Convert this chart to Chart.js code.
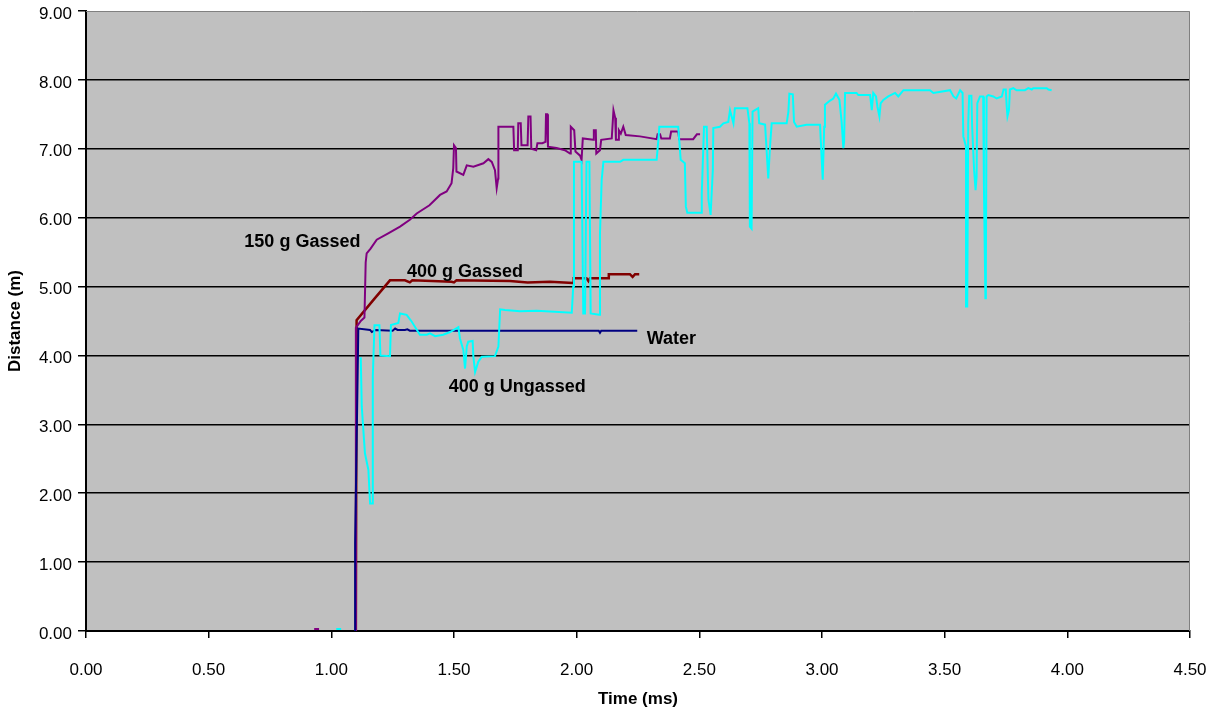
<!DOCTYPE html>
<html>
<head>
<meta charset="utf-8">
<script src="https://cdn.jsdelivr.net/npm/chart.js@4/dist/chart.umd.min.js"></script>
<style>
  html, body { margin: 0; padding: 0; background: #ffffff; }
  #wrap { width: 1215px; height: 710px; }
</style>
</head>
<body>
<div id="wrap"><canvas id="c" width="1215" height="710"></canvas></div>
<script>
// ---- Data (time in ms, distance in m); null = gap ----
const gassed150T = [0.93,0.95,0.96,1.10,1.10,1.12,1.135,1.14,1.144,1.16,1.185,1.23,1.28,1.32,1.348,1.40,1.443,1.47,1.49,1.497,1.500,1.504,1.508,1.51,1.538,1.552,1.579,1.62,1.64,1.654,1.667,1.674,1.68,1.681,1.742,1.745,1.76,1.762,1.772,1.775,1.80,1.803,1.812,1.815,1.835,1.84,1.86,1.873,1.875,1.88,1.883,1.918,1.952,1.973,1.976,1.99,1.995,2.014,2.02,2.025,2.068,2.07,2.078,2.08,2.095,2.10,2.143,2.15,2.157,2.16,2.17,2.172,2.18,2.19,2.20,2.258,2.326,2.33,2.34,2.345,2.38,2.385,2.414,2.418,2.475,2.49,2.503];
const gassed150D = [0.03,0.03,null,0,4.4,4.5,4.55,5.35,5.48,5.55,5.68,5.77,5.87,5.97,6.06,6.18,6.33,6.38,6.5,6.72,7.05,7.05,7.01,6.67,6.62,6.76,6.74,6.79,6.85,6.81,6.69,6.43,6.57,7.32,7.32,6.98,6.98,7.37,7.37,7.05,7.05,7.47,7.47,7.0,6.98,7.08,7.08,7.10,7.5,7.5,7.03,7.01,6.98,6.93,7.32,7.27,6.96,6.90,6.84,7.15,7.13,7.27,7.27,6.93,6.98,7.13,7.15,7.56,7.45,7.13,7.13,7.27,7.22,7.32,7.20,7.18,7.14,7.21,7.21,7.15,7.15,7.25,7.25,7.14,7.14,7.21,7.21];

const gassed400T = [1.10,1.103,1.17,1.239,1.30,1.32,1.33,1.49,1.50,1.51,1.728,1.80,1.891,1.986,1.988,2.04,2.048,2.054,2.129,2.131,2.217,2.228,2.238,2.255];
const gassed400D = [0,4.51,4.80,5.09,5.09,5.06,5.09,5.07,5.06,5.09,5.08,5.06,5.07,5.05,5.12,5.12,5.08,5.12,5.12,5.18,5.18,5.14,5.18,5.18];

const waterT = [1.097,1.097,1.11,1.158,1.165,1.18,1.25,1.26,1.27,1.30,1.31,1.32,2.09,2.095,2.10,2.247];
const waterD = [0,1.27,4.39,4.37,4.34,4.37,4.36,4.39,4.37,4.37,4.38,4.36,4.36,4.33,4.36,4.36];

const ungassed400T = [1.02,1.04,1.05,1.115,1.12,1.124,1.137,1.151,1.158,1.169,1.169,1.176,1.196,1.20,1.239,1.243,1.273,1.28,1.307,1.328,1.361,1.389,1.402,1.423,1.456,1.484,1.518,1.524,1.538,1.545,1.552,1.558,1.576,1.579,1.586,1.599,1.613,1.667,1.681,1.688,1.708,1.769,1.837,1.98,1.986,1.989,2.02,2.027,2.034,2.04,2.052,2.057,2.092,2.095,2.102,2.109,2.177,2.19,2.326,2.333,2.337,2.414,2.424,2.441,2.445,2.451,2.51,2.51,2.519,2.53,2.537,2.546,2.555,2.557,2.584,2.598,2.618,2.625,2.639,2.645,2.696,2.704,2.706,2.713,2.717,2.74,2.744,2.768,2.781,2.788,2.795,2.856,2.863,2.867,2.881,2.886,2.897,2.937,2.992,2.999,3.003,3.009,3.012,3.033,3.046,3.057,3.071,3.08,3.087,3.09,3.094,3.141,3.148,3.196,3.203,3.209,3.22,3.226,3.234,3.239,3.25,3.27,3.298,3.311,3.332,3.44,3.454,3.522,3.536,3.547,3.563,3.573,3.576,3.587,3.587,3.592,3.596,3.60,3.609,3.612,3.62,3.626,3.63,3.633,3.644,3.657,3.66,3.666,3.668,3.671,3.678,3.698,3.712,3.733,3.74,3.749,3.753,3.756,3.762,3.766,3.78,3.793,3.827,3.841,3.855,3.861,3.916,3.923,3.936];
const ungassed400D = [0.03,0.03,null,3.96,3.96,3.26,2.58,2.34,1.85,1.85,3.69,4.44,4.44,4.0,3.99,4.44,4.47,4.61,4.59,4.49,4.30,4.30,4.32,4.28,4.30,4.34,4.41,4.25,4.08,3.81,4.13,4.20,4.21,3.98,3.76,3.91,3.98,3.99,4.13,4.67,4.66,4.64,4.65,4.62,5.0,6.81,6.81,4.61,4.61,6.81,6.81,4.61,4.59,5.77,6.55,6.81,6.81,6.84,6.84,7.13,7.32,7.32,6.84,6.79,6.16,6.07,6.07,6.35,7.32,7.32,6.26,6.04,6.69,7.30,7.32,7.37,7.39,7.56,7.37,7.59,7.59,7.37,5.87,5.84,7.54,7.59,7.37,7.35,6.57,7.03,7.37,7.37,7.54,7.80,7.79,7.39,7.32,7.35,7.35,6.84,6.55,7.32,7.64,7.70,7.73,7.80,7.71,7.39,7.01,7.10,7.81,7.81,7.78,7.78,7.56,7.81,7.76,7.61,7.47,7.66,7.71,7.76,7.81,7.76,7.85,7.85,7.81,7.85,7.76,7.73,7.85,7.81,7.18,7.03,4.71,4.71,7.37,7.77,7.77,7.32,6.69,6.40,6.59,7.66,7.76,7.76,6.45,4.83,5.24,7.76,7.78,7.76,7.73,7.76,7.86,7.86,7.61,7.47,7.56,7.86,7.88,7.85,7.85,7.88,7.86,7.88,7.88,7.86,7.85];

// Series labels (text placed at data coordinates)
const seriesLabelText = ['150 g Gassed', '400 g Gassed', 'Water', '400 g Ungassed'];
const seriesLabelT = [0.882, 1.545, 2.386, 1.758];
const seriesLabelD = [5.645, 5.21, 4.24, 3.545];

const xTicks = [0, 0.5, 1, 1.5, 2, 2.5, 3, 3.5, 4, 4.5];
const yTicks = [0, 1, 2, 3, 4, 5, 6, 7, 8, 9];

function pts(ts, ds) { return ts.map((t, i) => ({ x: t, y: ds[i] })); }

const FONT = '"Liberation Sans", Arial, sans-serif';

const plotBg = {
  id: 'plotBg',
  beforeDraw(chart) {
    const { ctx, chartArea: a } = chart;
    ctx.save();
    ctx.fillStyle = '#C0C0C0';
    ctx.fillRect(a.left, a.top, a.right - a.left, a.bottom - a.top);
    ctx.restore();
  },
  beforeDatasetsDraw(chart) {
    const { ctx, chartArea: a } = chart;
    ctx.save();
    ctx.strokeStyle = '#808080';
    ctx.lineWidth = 1;
    ctx.beginPath();
    ctx.moveTo(a.left, a.top + 0.5);
    ctx.lineTo(a.right - 0.5, a.top + 0.5);
    ctx.lineTo(a.right - 0.5, a.bottom);
    ctx.stroke();
    ctx.restore();
  }
};

const seriesLabels = {
  id: 'seriesLabels',
  afterDatasetsDraw(chart) {
    const { ctx } = chart;
    const xs = chart.scales.x, ys = chart.scales.y;
    ctx.save();
    ctx.font = 'bold 18px ' + FONT;
    ctx.fillStyle = '#000';
    ctx.textAlign = 'center';
    ctx.textBaseline = 'middle';
    seriesLabelText.forEach((txt, i) => {
      ctx.fillText(txt, xs.getPixelForValue(seriesLabelT[i]), ys.getPixelForValue(seriesLabelD[i]));
    });
    ctx.restore();
  }
};

const common = { showLine: true, pointRadius: 0, borderWidth: 2, fill: false, tension: 0, spanGaps: false };

new Chart(document.getElementById('c'), {
  type: 'scatter',
  data: {
    datasets: [
      { ...common, label: '400 g Ungassed', data: pts(ungassed400T, ungassed400D), borderColor: '#00FFFF' },
      { ...common, label: 'Water', data: pts(waterT, waterD), borderColor: '#000080' },
      { ...common, label: '150 g Gassed', data: pts(gassed150T, gassed150D), borderColor: '#800080' },
      { ...common, label: '400 g Gassed', data: pts(gassed400T, gassed400D), borderColor: '#800000', borderWidth: 2.5 }
    ]
  },
  options: {
    responsive: false,
    animation: false,
    devicePixelRatio: 1,
    layout: { padding: { top: 11, right: 25, left: 0, bottom: 0 } },
    plugins: { legend: { display: false }, tooltip: { enabled: false } },
    scales: {
      x: {
        type: 'linear',
        min: 0, max: 4.5,
        afterFit(s) { s.height = 79; s.paddingLeft = 0; s.paddingRight = 0; },
        afterBuildTicks(s) { s.ticks = xTicks.map(v => ({ value: v })); },
        ticks: {
          font: { family: FONT, size: 17 }, color: '#000', padding: 22,
          maxRotation: 0, autoSkip: false,
          callback: v => Number(v).toFixed(2)
        },
        grid: { display: true, drawOnChartArea: false, drawTicks: true, tickLength: 7, color: '#000', lineWidth: 1.5 },
        border: { display: true, color: '#000', width: 2 },
        title: { display: true, text: 'Time (ms)', font: { family: FONT, size: 17, weight: 'bold' }, color: '#000', padding: { top: 0, bottom: 0 } }
      },
      y: {
        type: 'linear',
        min: 0, max: 9,
        afterFit(s) { s.width = 86; s.paddingTop = 0; s.paddingBottom = 0; },
        afterBuildTicks(s) { s.ticks = yTicks.map(v => ({ value: v })); },
        ticks: {
          font: { family: FONT, size: 17 }, color: '#000', padding: 6, labelOffset: 3,
          autoSkip: false,
          callback: v => Number(v).toFixed(2)
        },
        grid: {
          display: true, drawOnChartArea: true, drawTicks: true, tickLength: 8,
          color: c => (c.tick && c.tick.value === 9) ? 'rgba(0,0,0,0)' : '#000',
          tickColor: '#000',
          lineWidth: 1.5
        },
        border: { display: true, color: '#000', width: 2 },
        title: { display: true, text: 'Distance (m)', font: { family: FONT, size: 17, weight: 'bold' }, color: '#000', padding: { top: 5, bottom: 0 } }
      }
    }
  },
  plugins: [plotBg, seriesLabels]
});
</script>
</body>
</html>
